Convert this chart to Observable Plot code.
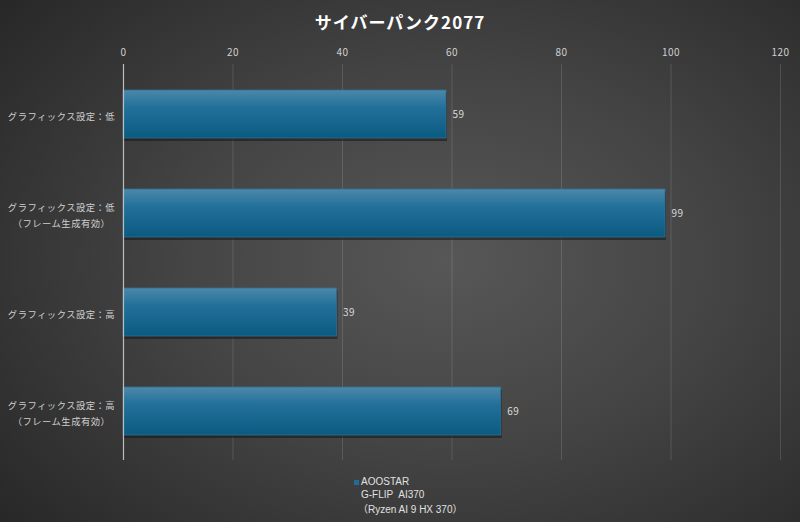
<!DOCTYPE html>
<html><head><meta charset="utf-8">
<script src="https://cdn.jsdelivr.net/npm/d3@7"></script>
<script src="https://cdn.jsdelivr.net/npm/@observablehq/plot@0.6"></script>
<style>
html,body{margin:0;padding:0;}
body{width:800px;height:522px;position:relative;overflow:hidden;
 background:radial-gradient(ellipse 75% 80% at 56% 50%, #575757 0%, #444 45%, #262626 100%);
 font-family:"Noto Sans CJK JP","Noto Sans",sans-serif;}
#title{position:absolute;top:9px;left:0;width:800px;text-align:center;color:#fff;font-weight:bold;font-size:17px;letter-spacing:1px;}
#chart{position:absolute;top:0;left:0;}
#legend{position:absolute;top:475px;left:354px;color:#e0e0e0;font-size:10px;line-height:13px;font-family:"Liberation Sans","Noto Sans CJK JP",sans-serif;}
#legend .sw{display:inline-block;width:5px;height:5px;background:#1d6d96;margin-right:2px;vertical-align:middle;}
</style></head>
<body>
<div id="title">サイバーパンク2077</div>
<div id="chart"></div>
<div id="legend"><span class="sw"></span>AOOSTAR<br><span style="padding-left:7px">G-FLIP&nbsp; AI370</span><br><span style="padding-left:4px;line-height:17px">（Ryzen AI 9 HX 370）</span></div>
<script>
const categories = [
  "グラフィックス設定：低",
  "グラフィックス設定：低\n（フレーム生成有効）",
  "グラフィックス設定：高",
  "グラフィックス設定：高\n（フレーム生成有効）"
];
const values = [59, 99, 39, 69];
const xTicks = [0, 20, 40, 60, 80, 100, 120];
const seriesName = "AOOSTAR G-FLIP AI370（Ryzen AI 9 HX 370）";

const data = categories.map((c, i) => ({category: c, value: values[i]}));

const plot = Plot.plot({
  width: 800,
  height: 466,
  marginTop: 64,
  marginLeft: 123,
  marginRight: 20,
  marginBottom: 6,
  style: {background: "transparent", fontFamily: "'Noto Sans CJK JP', sans-serif"},
  x: {domain: [0, 120], ticks: xTicks, axis: null},
  y: {domain: categories, paddingInner: 0.52, paddingOuter: 0.26, axis: null},
  marks: [
    Plot.gridX(xTicks, {stroke: "#ffffff", strokeOpacity: 0.13, strokeWidth: 1}),
    Plot.axisX(xTicks, {anchor: "top", tickSize: 0, tickPadding: 9, fill: "#d0d0d0", fontSize: 10, label: null, tickFormat: d => d}),
    Plot.barX(data, {x: "value", y: "category", fill: "#151515", fillOpacity: 0.55, dy: 3, dx: 1}),
    Plot.barX(data, {x: "value", y: "category", fill: "url(#barGrad)", stroke: "#2f6f92", strokeWidth: 0.8}),
    Plot.ruleX([0], {stroke: "#bdbdbd", strokeWidth: 1.2}),
    Plot.text(data, {x: "value", y: "category", text: d => String(d.value), dx: 6, textAnchor: "start", fill: "#dcdcdc", fontSize: 10}),
    Plot.text(data, {y: "category", text: "category", frameAnchor: "left", dx: -62, textAnchor: "middle", fill: "#cfcfcf", fontSize: 9.3, lineHeight: 1.75, className: "ylab"})
  ]
});

const ns = "http://www.w3.org/2000/svg";
const defs = document.createElementNS(ns, "defs");
defs.innerHTML = `<linearGradient id="barGrad" x1="0" y1="0" x2="0" y2="1">
  <stop offset="0" stop-color="#4d88aa"/>
  <stop offset="0.35" stop-color="#23719a"/>
  <stop offset="1" stop-color="#0b5a82"/>
</linearGradient>`;
plot.insertBefore(defs, plot.firstChild);
plot.querySelectorAll("text").forEach(t => t.style.letterSpacing = "0.5px");
document.getElementById("chart").appendChild(plot);
</script>
</body></html>
